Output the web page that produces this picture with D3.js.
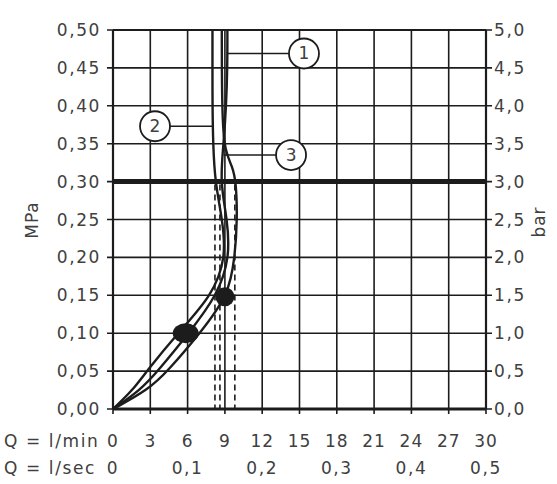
<!DOCTYPE html>
<html><head><meta charset="utf-8">
<script src="https://cdn.jsdelivr.net/npm/d3@7"></script>
<style>body{margin:0;background:#fff}text{font-family:"DejaVu Sans",sans-serif;fill:#404040}</style>
</head><body><svg id="c" width="557" height="484"></svg>
<script>
const flowTicksMin = [0,3,6,9,12,15,18,21,24,27,30];
const flowTicksSec = [0,0.1,0.2,0.3,0.4,0.5];
const flowSecLabels = ["0","0,1","0,2","0,3","0,4","0,5"];
const pressTicks = [0,0.05,0.10,0.15,0.20,0.25,0.30,0.35,0.40,0.45,0.50];
const mpaLabels = ["0,00","0,05","0,10","0,15","0,20","0,25","0,30","0,35","0,40","0,45","0,50"];
const barLabels = ["0,0","0,5","1,0","1,5","2,0","2,5","3,0","3,5","4,0","4,5","5,0"];
// curves: pressure (MPa) and flow (l/min)
const p1 = [0,0.025,0.05,0.10,0.15,0.20,0.25,0.30,0.35,0.40,0.45,0.50];
const curve1Q = [0,2.2,3.6,6.1,8.4,9.4,9.2,8.6,8.9,9.1,9.2,9.2];
const p2 = [0,0.025,0.05,0.10,0.15,0.20,0.25,0.30,0.35,0.40,0.45,0.50];
const curve2Q = [0,1.6,2.7,5.2,8.0,9.1,8.8,8.2,8.05,8.0,8.0,8.0];
const p3 = [0,0.025,0.05,0.10,0.15,0.20,0.25,0.30,0.32,0.34,0.38,0.45,0.50];
const curve3Q = [0,2.8,4.4,7.0,9.3,9.8,10.0,9.9,9.6,9.0,8.8,8.75,8.75];
const dashedQ = [8.2,8.6,9.8];
const refPressure = 0.30;
const dots = [{q:5.85,p:0.10,rx:13,ry:10},{q:9.0,p:0.148,rx:9.5,ry:9.5}];
const labels = [
  {t:"1", q:15.36, p:0.469, from:9.2},
  {t:"2", q:3.38, p:0.373, from:8.05},
  {t:"3", q:14.32, p:0.335, from:8.9}
];

const svg = d3.select("#c");
const x = d3.scaleLinear().domain([0,30]).range([113,486]);
const y = d3.scaleLinear().domain([0,0.5]).range([409,30]);
const qs = d3.scaleLinear().domain([0,0.5]).range([113,486]);
const ink = "#1c1c1c";

// grid
svg.append("g").selectAll("line").data(flowTicksMin).join("line")
  .attr("x1",d=>x(d)).attr("x2",d=>x(d)).attr("y1",y(0.5)).attr("y2",y(0)+5)
  .attr("stroke",ink).attr("stroke-width",1.6);
svg.append("g").selectAll("line").data(pressTicks).join("line")
  .attr("x1",x(0)-6).attr("x2",x(30)+6).attr("y1",d=>y(d)).attr("y2",d=>y(d))
  .attr("stroke",ink).attr("stroke-width",1.6);
// axes heavier
svg.append("line").attr("x1",x(0)).attr("x2",x(0)).attr("y1",y(0.5)).attr("y2",y(0)).attr("stroke",ink).attr("stroke-width",2.2);
svg.append("line").attr("x1",x(30)).attr("x2",x(30)).attr("y1",y(0.5)).attr("y2",y(0)).attr("stroke",ink).attr("stroke-width",2.2);
svg.append("line").attr("x1",x(0)).attr("x2",x(30)).attr("y1",y(0.5)).attr("y2",y(0.5)).attr("stroke",ink).attr("stroke-width",2.2);
svg.append("line").attr("x1",x(0)).attr("x2",x(30)).attr("y1",y(0)).attr("y2",y(0)).attr("stroke",ink).attr("stroke-width",3);
svg.append("line").attr("x1",x(0)).attr("x2",x(30)).attr("y1",y(refPressure)).attr("y2",y(refPressure)).attr("stroke",ink).attr("stroke-width",5);

// dashed lines
svg.append("g").selectAll("line").data(dashedQ).join("line")
  .attr("x1",d=>x(d)).attr("x2",d=>x(d)).attr("y1",y(refPressure)+3).attr("y2",y(0))
  .attr("stroke",ink).attr("stroke-width",1.6).attr("stroke-dasharray","6,4");

// curves
const line = d3.line().x(d=>x(d[0])).y(d=>y(d[1])).curve(d3.curveBasis);
const curves = [curve1Q.map((q,i)=>[q,p1[i]]), curve2Q.map((q,i)=>[q,p2[i]]), curve3Q.map((q,i)=>[q,p3[i]])];
svg.append("g").selectAll("path").data(curves).join("path")
  .attr("d",line).attr("fill","none").attr("stroke",ink).attr("stroke-width",2.4);

// dots
svg.append("g").selectAll("ellipse").data(dots).join("ellipse")
  .attr("cx",d=>x(d.q)).attr("cy",d=>y(d.p)).attr("rx",d=>d.rx).attr("ry",d=>d.ry).attr("fill",ink);

// labels
const lg = svg.append("g");
labels.forEach(l=>{
  const cx = x(l.q), cy = y(l.p), r = 15;
  lg.append("line").attr("x1",x(l.from)).attr("x2",cx-r).attr("y1",cy).attr("y2",cy).attr("stroke",ink).attr("stroke-width",1.6);
  lg.append("circle").attr("cx",cx).attr("cy",cy).attr("r",r).attr("fill","#fff").attr("stroke",ink).attr("stroke-width",1.8);
  lg.append("text").attr("x",cx).attr("y",cy+6).attr("text-anchor","middle").attr("font-size",17).text(l.t);
});

// tick labels
svg.append("g").selectAll("text").data(pressTicks).join("text")
  .attr("x",101).attr("y",d=>y(d)+6).attr("text-anchor","end").attr("font-size",17)
  .attr("letter-spacing",1.6).text((d,i)=>mpaLabels[i]);
svg.append("g").selectAll("text").data(pressTicks).join("text")
  .attr("x",494).attr("y",d=>y(d)+6).attr("font-size",17)
  .attr("letter-spacing",1.6).text((d,i)=>barLabels[i]);
svg.append("g").selectAll("text").data(flowTicksMin).join("text")
  .attr("x",d=>x(d)).attr("y",447).attr("text-anchor","middle").attr("font-size",17)
  .attr("letter-spacing",1).text(d=>d);
svg.append("g").selectAll("text").data(flowTicksSec).join("text")
  .attr("x",d=>qs(d)).attr("y",474).attr("text-anchor","middle").attr("font-size",17)
  .attr("letter-spacing",1.6).text((d,i)=>flowSecLabels[i]);
svg.append("text").attr("x",4).attr("y",447).attr("font-size",17).attr("letter-spacing",1.6).text("Q = l/min");
svg.append("text").attr("x",4).attr("y",474).attr("font-size",17).attr("letter-spacing",1.6).text("Q = l/sec");
svg.append("text").attr("transform","translate(38,220) rotate(-90)").attr("text-anchor","middle").attr("font-size",17).attr("letter-spacing",1).text("MPa");
svg.append("text").attr("transform","translate(545,222) rotate(-90)").attr("text-anchor","middle").attr("font-size",17).attr("letter-spacing",1).text("bar");
</script></body></html>
